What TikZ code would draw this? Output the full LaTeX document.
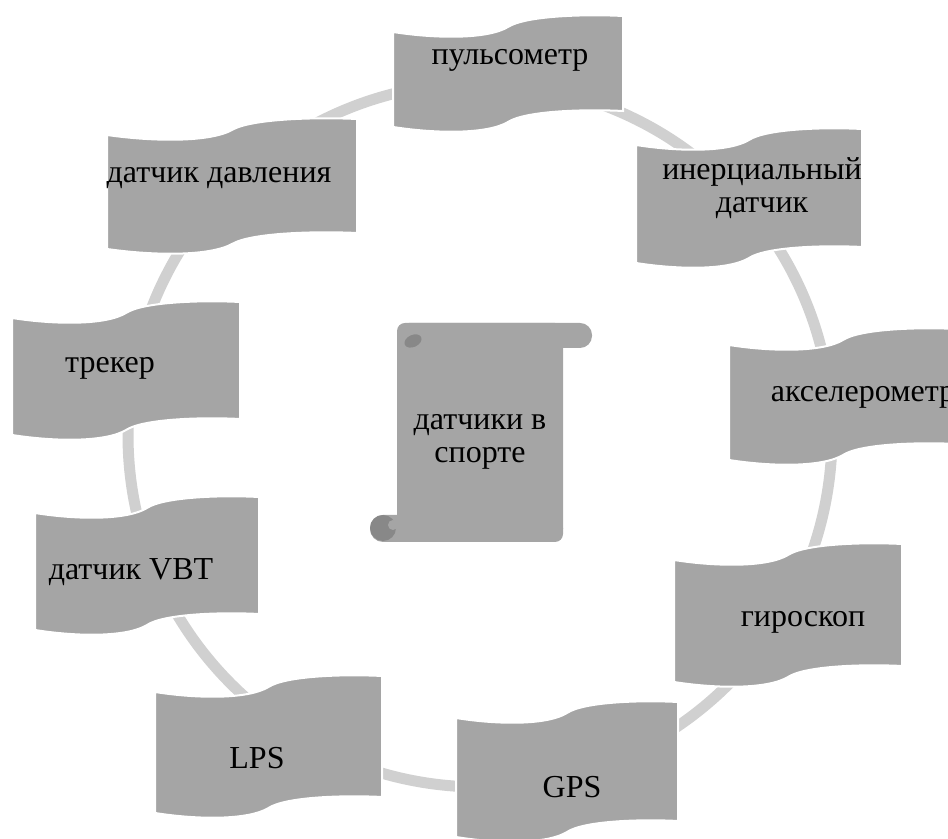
\documentclass[tikz,border=0pt]{standalone}
\usepackage{fontspec}
\setmainfont{Liberation Serif}
\usetikzlibrary{positioning}
\definecolor{wavegray}{HTML}{A5A5A5}
\definecolor{ringgray}{HTML}{D0D0D0}
\definecolor{curlgray}{HTML}{888888}
\tikzset{
    %Define style for the wave boxes
    wavebox/.style={
           fill=wavegray,
           draw=white, line width=1pt},
    %Define style for the scroll
    scrollpart/.style={
           fill=wavegray},
    %Define style for the labels
    punkt/.style={
           inner sep=0pt,
           align=center,
           font=\fontsize{16}{16.5}\selectfont},
    % Define ring style
    ring/.style={
           draw=ringgray,
           line width=5.5pt}
}
\begin{document}
\begin{tikzpicture}[x=0.5pt,y=0.5pt]
\useasboundingbox (0,0) rectangle (948,839);
\clip (0,0) rectangle (948,839);
% ring behind everything
\draw[ring] (480,404) circle[radius=352];
% wave boxes: left / top left / width / height
\foreach \x/\y/\w/\h in {393/807/230/95, 636/694/226/118, 729/494/228/115,
    674/279/228/122, 456/121/222/119, 155/147/227/121,
    35/326/224/117, 12/521/228/117, 107/704/250/114}
  \path[wavebox, shift={(\x,\y)}, xscale=\w/230]
    (0,0) .. controls (45,-7) and (95,-7) .. (115,5)
          .. controls (132,16) and (190,18) .. (230,16)
    -- (230,16-\h)
          .. controls (190,18-\h) and (132,16-\h) .. (115,5-\h)
          .. controls (95,-7-\h) and (45,-7-\h) .. (0,-\h) -- cycle;
% scroll in the middle
\fill[scrollpart, rounded corners=4pt] (397,297) rectangle (563,516);
\fill[scrollpart, rounded corners=6pt] (397,491) rectangle (592,516);
\fill[scrollpart, rounded corners=6.5pt] (370,297) rectangle (563,324);
\fill[curlgray, rotate around={25:(413,498)}] (413,498) ellipse[x radius=9, y radius=6];
\fill[curlgray] (383,311) circle[radius=13];
\fill[wavegray] (393,314) circle[radius=5];
% labels
\node[punkt](main) at (480,397){датчики в\\спорте};
\node[punkt](pulse) at (510,779){пульсометр};
\node[punkt](inert) at (762,651){инерциальный\\датчик};
\node[punkt](accel) at (863,442){акселерометр};
\node[punkt](gyro) at (803,217){гироскоп};
\node[punkt](gps) at (572,52){GPS};
\node[punkt](lps) at (257,81){LPS};
\node[punkt](vbt) at (131,267){датчик VBT};
\node[punkt](tracker) at (110,471){трекер};
\node[punkt](pressure) at (219,661){датчик давления};
\end{tikzpicture}
\end{document}
